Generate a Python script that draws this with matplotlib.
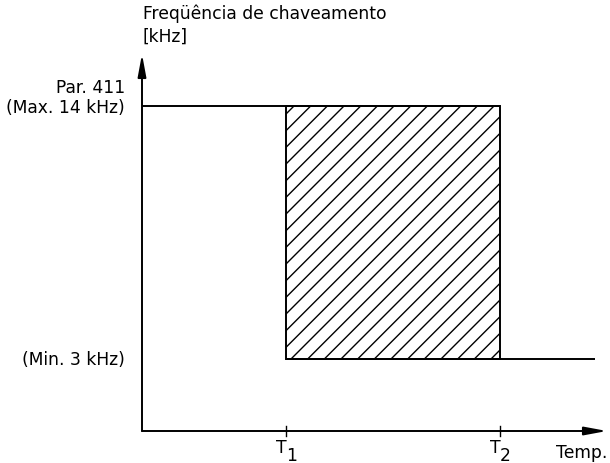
import matplotlib
matplotlib.use("Agg")
import matplotlib.pyplot as plt
from matplotlib.patches import Rectangle

# Data (arbitrary time units; frequency in kHz)
t_marks = [3.1, 7.7]            # T1, T2
t_subs = ["1", "2"]
t_end = 9.74                    # end of the low-frequency line
f_max = 14.0
f_min = 3.0
x_max = 10.0
y_lo, y_hi = -0.13, 16.26

plt.rcParams['font.family'] = ['DejaVu Sans']
plt.rcParams['hatch.linewidth'] = 1.0

W, H = 610, 464
fs = 12.3
px = 72 / 100.0   # points per pixel
fig = plt.figure(figsize=(W/100, H/100), dpi=100)
ax = fig.add_axes([142/W, 32/H, (607-142)/W, (432-55)/H])
ax.set_xlim(0, x_max)
ax.set_ylim(y_lo, y_hi)
ax.axis('off')

lw = 1.4
astyle = '-|>,head_length=1.35,head_width=0.25'
ax.annotate("", xy=(x_max, y_lo), xytext=(0, y_lo),
            arrowprops=dict(arrowstyle=astyle, color='black', lw=lw,
                            shrinkA=0, shrinkB=0),
            annotation_clip=False)
ax.annotate("", xy=(0, y_hi), xytext=(0, y_lo),
            arrowprops=dict(arrowstyle=astyle, color='black', lw=lw,
                            shrinkA=0, shrinkB=0),
            annotation_clip=False)

# high-frequency line up to T2
ax.plot([0, t_marks[1]], [f_max, f_max], color='black', lw=lw, solid_capstyle='butt')
# low-frequency line from T1 to end
ax.plot([t_marks[0], t_end], [f_min, f_min], color='black', lw=lw, solid_capstyle='butt')
# hatched region
rect = Rectangle((t_marks[0], f_min), t_marks[1]-t_marks[0], f_max-f_min,
                 facecolor='white', edgecolor='black', lw=lw, hatch='//')
ax.add_patch(rect)

# ticks and labels on time axis
for t, sub in zip(t_marks, t_subs):
    ax.plot([t, t], [y_lo-0.22, y_lo+0.22], color='black', lw=1.0, clip_on=False)
    ax.annotate("T", xy=(t, y_lo), xytext=(-5*px, -21*px), textcoords='offset points',
                ha='center', va='baseline', fontsize=fs, annotation_clip=False)
    ax.annotate(sub, xy=(t, y_lo), xytext=(5*px, -29*px), textcoords='offset points',
                ha='center', va='baseline', fontsize=fs, annotation_clip=False)

ax.annotate("Temp.", xy=(x_max, y_lo), xytext=(0, -26*px), textcoords='offset points',
            ha='right', va='baseline', fontsize=fs, annotation_clip=False)

# y labels
ax.annotate("Par. 411", xy=(0, f_max), xytext=(-17*px, 14*px), textcoords='offset points',
            ha='right', va='baseline', fontsize=fs, annotation_clip=False)
ax.annotate("(Max. 14 kHz)", xy=(0, f_max), xytext=(-17*px, -6*px), textcoords='offset points',
            ha='right', va='baseline', fontsize=fs, annotation_clip=False)
ax.annotate("(Min. 3 kHz)", xy=(0, f_min), xytext=(-17*px, -5*px), textcoords='offset points',
            ha='right', va='baseline', fontsize=fs, annotation_clip=False)

# y axis title
fig.text(143/W, 1-19/H, "Freqüência de chaveamento", ha='left', va='baseline', fontsize=fs)
fig.text(143/W, 1-42/H, "[kHz]", ha='left', va='baseline', fontsize=fs)

fig.savefig("out.png", dpi=100)
